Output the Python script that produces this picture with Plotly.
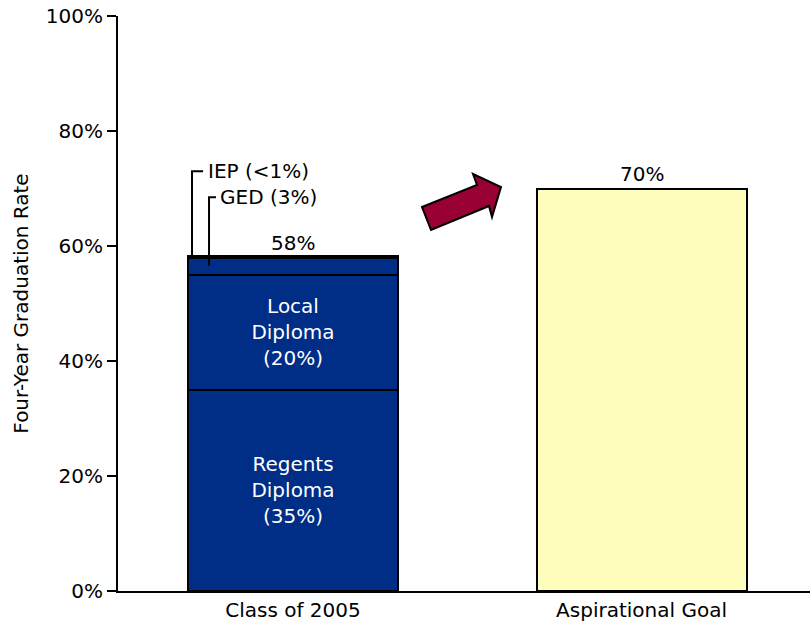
import plotly.graph_objects as go

categories = ["Class of 2005", "Aspirational Goal"]
regents = [35, None]
local = [20, None]
ged = [3, None]
iep = [0.3, None]
goal = [None, 70]
totals = [58, 70]
total_labels = ["58%", "70%"]
seg_labels_regents = ["Regents<br>Diploma<br>(35%)", ""]
seg_labels_local = ["Local<br>Diploma<br>(20%)", ""]

NAVY = "#002D86"
YELLOW = "#FFFDBB"
ARROW = "#990033"
FONT = "DejaVu Sans"
FS = 20

fig = go.Figure()
common = dict(marker_line_color="black", marker_line_width=2, width=0.6026, hoverinfo="skip")
fig.add_bar(x=categories, y=regents, marker_color=NAVY, text=seg_labels_regents,
            textposition="inside", insidetextanchor="middle",
            textfont=dict(color="white", size=FS, family=FONT), **common)
fig.add_bar(x=categories, y=local, marker_color=NAVY, text=seg_labels_local,
            textposition="inside", insidetextanchor="middle",
            textfont=dict(color="white", size=FS, family=FONT), **common)
fig.add_bar(x=categories, y=ged, marker_color=NAVY, textposition="none", **common)
fig.add_bar(x=categories, y=iep, marker_color=NAVY, textposition="none", **common)
fig.add_bar(x=categories, y=goal, marker_color=YELLOW, textposition="none", **common)

for c, t, lab in zip(categories, totals, total_labels):
    fig.add_annotation(x=c, y=t, text=lab, showarrow=False, yanchor="bottom", yshift=1,
                       font=dict(size=FS, family=FONT, color="black"))

# leader lines for small segments
ged_top = regents[0] + local[0] + ged[0]
iep_top = ged_top + iep[0]
fig.add_shape(type="path", xref="x", yref="y",
              path=f"M -0.2898,{iep_top} L -0.2898,73 L -0.258,73",
              line=dict(color="black", width=2))
fig.add_shape(type="path", xref="x", yref="y",
              path=f"M -0.241,{regents[0] + local[0] + 1.6} L -0.241,68.5 L -0.221,68.5",
              line=dict(color="black", width=2))
fig.add_annotation(x=-0.25, y=73, xref="x", yref="y", text="IEP (<1%)", showarrow=False,
                   xanchor="left", font=dict(size=FS, family=FONT, color="black"))
fig.add_annotation(x=-0.215, y=68.5, xref="x", yref="y", text="GED (3%)", showarrow=False,
                   xanchor="left", font=dict(size=FS, family=FONT, color="black"))

# arrow
pts = [(0.3702, 66.78), (0.528, 70.61), (0.5165, 72.52), (0.5968, 70.26),
       (0.571, 65.04), (0.5624, 66.96), (0.396, 62.78)]
path = "M " + " L ".join(f"{x},{y}" for x, y in pts) + " Z"
fig.add_shape(type="path", xref="x", yref="y", path=path,
              fillcolor=ARROW, line=dict(color="black", width=2))

fig.update_layout(
    barmode="stack", bargap=0.393, showlegend=False,
    width=810, height=624, margin=dict(l=118, r=0, t=16, b=33),
    plot_bgcolor="white", paper_bgcolor="white",
    font=dict(family=FONT, size=FS, color="black"),
)
fig.update_xaxes(range=[-0.5022, 1.4835], showline=True, linecolor="black", linewidth=2,
                 ticks="", showgrid=False, tickfont=dict(size=FS), automargin=False)
fig.update_yaxes(range=[0, 100], dtick=20, ticksuffix="%", showline=True, linecolor="black",
                 linewidth=2, ticks="outside", ticklen=9, tickwidth=2, tickcolor="black",
                 showgrid=False, zeroline=False, tickfont=dict(size=FS),
                 ticklabeloverflow="allow", automargin=False,
                 title=dict(text="Four-Year Graduation Rate", font=dict(size=FS), standoff=12))

fig.write_html("out.html", config={"displayModeBar": False},
               post_script="document.body.style.margin='0';document.body.style.overflow='hidden';")
